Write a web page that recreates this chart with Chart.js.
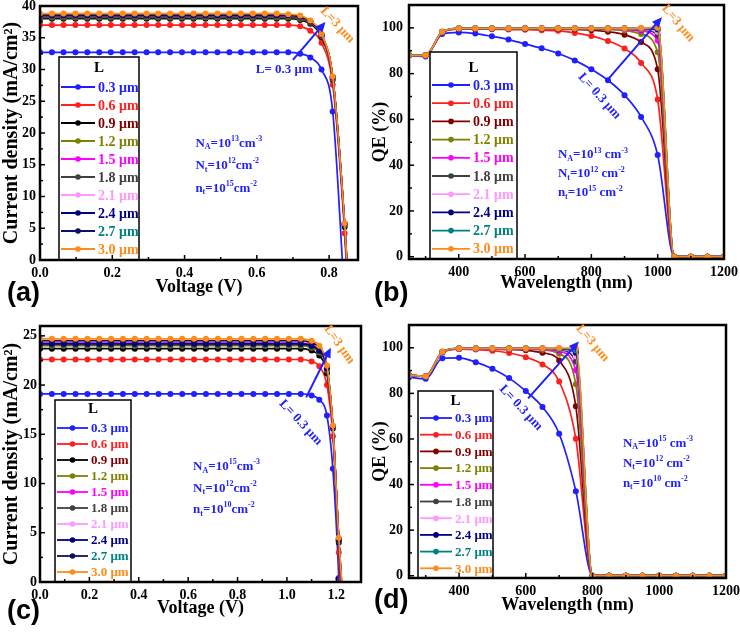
<!DOCTYPE html>
<html>
<head>
<meta charset="utf-8">
<script src="https://cdn.jsdelivr.net/npm/chart.js@4"></script>
<style>
body { margin: 0; background: #fff; }
#wrap { position: relative; width: 740px; height: 637px; }
canvas { position: absolute; }
</style>
</head>
<body>
<div id="wrap">
<canvas id="ca" width="370" height="318" style="left:0;top:0"></canvas>
<canvas id="cb" width="370" height="318" style="left:370px;top:0"></canvas>
<canvas id="cc" width="370" height="319" style="left:0;top:318px"></canvas>
<canvas id="cd" width="370" height="319" style="left:370px;top:318px"></canvas>
</div>
<script>
var lengths = ['0.3 μm', '0.6 μm', '0.9 μm', '1.2 μm', '1.5 μm', '1.8 μm', '2.1 μm', '2.4 μm', '2.7 μm', '3.0 μm'];
var textColors = ['#1f1fff', '#ff1f1f', '#800000', '#808000', '#ff00ff', '#404040', '#ff99ff', '#000080', '#008080', '#ff8c1a'];
var lineColorsJV = ['#1f1fff', '#ff1f1f', '#000000', '#808000', '#ff00ff', '#404040', '#ff99ff', '#000080', '#101060', '#ff8c1a'];
var lineColorsQE = ['#1f1fff', '#ff1f1f', '#800000', '#808000', '#ff00ff', '#404040', '#ff99ff', '#000080', '#008080', '#ff8c1a'];

// (a) J-V, NA = 1e13
var voltA = [0, 0.033, 0.065, 0.098, 0.131, 0.164, 0.196, 0.229, 0.262, 0.295,
    0.327, 0.36, 0.393, 0.425, 0.458, 0.491, 0.524, 0.556, 0.589, 0.622,
    0.655, 0.687, 0.72, 0.748, 0.779, 0.81, 0.843, 0.85];
var jA = [
    [32.7,32.7,32.7,32.7,32.7,32.7,32.7,32.7,32.7,32.7, 32.7,32.7,32.7,32.7,32.7,32.7,32.7,32.7,32.7,32.7, 32.7,32.7, 32.5,31.9,30.0,23.4,-6,-12],
    [37.0,37.0,37.0,37.0,37.0,37.0,37.0,37.0,37.0,37.0, 37.0,37.0,37.0,37.0,37.0,37.0,37.0,37.0,37.0,37.0, 37.0,37.0, 36.8,36.1,34.2,27.6,4.2,-3],
    [38.0,38.0,38.0,38.0,38.0,38.0,38.0,38.0,38.0,38.0, 38.0,38.0,38.0,38.0,38.0,38.0,38.0,38.0,38.0,38.0, 38.0,38.0, 37.8,37.2,35.1,28.4,5.2,-2],
    [38.2,38.2,38.2,38.2,38.2,38.2,38.2,38.2,38.2,38.2, 38.2,38.2,38.2,38.2,38.2,38.2,38.2,38.2,38.2,38.2, 38.2,38.2, 38.0,37.4,35.3,28.6,5.5,-1.5],
    [38.4,38.4,38.4,38.4,38.4,38.4,38.4,38.4,38.4,38.4, 38.4,38.4,38.4,38.4,38.4,38.4,38.4,38.4,38.4,38.4, 38.4,38.4, 38.2,37.5,35.4,28.7,5.6,-1.3],
    [38.3,38.3,38.3,38.3,38.3,38.3,38.3,38.3,38.3,38.3, 38.3,38.3,38.3,38.3,38.3,38.3,38.3,38.3,38.3,38.3, 38.3,38.3, 38.1,37.4,35.4,28.7,5.6,-1.3],
    [38.5,38.5,38.5,38.5,38.5,38.5,38.5,38.5,38.5,38.5, 38.5,38.5,38.5,38.5,38.5,38.5,38.5,38.5,38.5,38.5, 38.5,38.5, 38.3,37.6,35.5,28.8,5.7,-1.2],
    [38.5,38.5,38.5,38.5,38.5,38.5,38.5,38.5,38.5,38.5, 38.5,38.5,38.5,38.5,38.5,38.5,38.5,38.5,38.5,38.5, 38.5,38.5, 38.3,37.6,35.5,28.8,5.7,-1.1],
    [38.6,38.6,38.6,38.6,38.6,38.6,38.6,38.6,38.6,38.6, 38.6,38.6,38.6,38.6,38.6,38.6,38.6,38.6,38.6,38.6, 38.6,38.6, 38.4,37.6,35.5,28.8,5.7,-1.1],
    [38.8,38.8,38.8,38.8,38.8,38.8,38.8,38.8,38.8,38.8, 38.8,38.8,38.8,38.8,38.8,38.8,38.8,38.8,38.8,38.8, 38.8,38.7, 38.5,37.7,35.6,28.9,5.8,-1]
];

// (c) J-V, NA = 1e15
var voltC = [0, 0.048, 0.096, 0.144, 0.192, 0.24, 0.288, 0.336, 0.384, 0.432,
    0.48, 0.528, 0.576, 0.624, 0.672, 0.72, 0.768, 0.816, 0.864, 0.912,
    0.96, 1.008, 1.056, 1.1, 1.131, 1.162, 1.186, 1.21, 1.23];
var jC = [
    [19.1,19.1,19.1,19.1,19.1,19.1,19.1,19.1,19.1,19.1, 19.1,19.1,19.1,19.1,19.1,19.1,19.1,19.1,19.1,19.1, 19.1,19.1,19.1, 18.95,18.5,16.9,11.5,0.4,-15],
    [22.6,22.6,22.6,22.6,22.6,22.6,22.6,22.6,22.6,22.6, 22.6,22.6,22.6,22.6,22.6,22.6,22.6,22.6,22.6,22.6, 22.6,22.6,22.6, 22.4,21.9,20.0,14.8,3.0,-10],
    [23.7,23.7,23.7,23.7,23.7,23.7,23.7,23.7,23.7,23.7, 23.7,23.7,23.7,23.7,23.7,23.7,23.7,23.7,23.7,23.7, 23.7,23.7,23.7, 23.5,23.0,21.2,15.6,4.0,-5],
    [24.0,24.0,24.0,24.0,24.0,24.0,24.0,24.0,24.0,24.0, 24.0,24.0,24.0,24.0,24.0,24.0,24.0,24.0,24.0,24.0, 24.0,24.0,24.0, 23.8,23.3,21.5,15.7,4.2,-4.5],
    [24.3,24.3,24.3,24.3,24.3,24.3,24.3,24.3,24.3,24.3, 24.3,24.3,24.3,24.3,24.3,24.3,24.3,24.3,24.3,24.3, 24.3,24.3,24.3, 24.1,23.6,21.7,15.8,4.3,-4],
    [24.1,24.1,24.1,24.1,24.1,24.1,24.1,24.1,24.1,24.1, 24.1,24.1,24.1,24.1,24.1,24.1,24.1,24.1,24.1,24.1, 24.1,24.1,24.1, 23.9,23.4,21.6,15.7,4.2,-4],
    [24.4,24.4,24.4,24.4,24.4,24.4,24.4,24.4,24.4,24.4, 24.4,24.4,24.4,24.4,24.4,24.4,24.4,24.4,24.4,24.4, 24.4,24.4,24.4, 24.2,23.7,21.8,15.8,4.4,-3.5],
    [24.2,24.2,24.2,24.2,24.2,24.2,24.2,24.2,24.2,24.2, 24.2,24.2,24.2,24.2,24.2,24.2,24.2,24.2,24.2,24.2, 24.2,24.2,24.2, 24.0,23.5,21.7,15.8,4.3,-3.5],
    [24.5,24.5,24.5,24.5,24.5,24.5,24.5,24.5,24.5,24.5, 24.5,24.5,24.5,24.5,24.5,24.5,24.5,24.5,24.5,24.5, 24.5,24.5,24.5, 24.3,23.8,21.9,15.8,4.4,-3.2],
    [24.7,24.7,24.7,24.7,24.7,24.7,24.7,24.7,24.7,24.7, 24.7,24.7,24.7,24.7,24.7,24.7,24.7,24.7,24.7,24.7, 24.7,24.7,24.7, 24.5,24.0,22.0,15.9,4.5,-3]
];

// (b) and (d) QE
var wave = [250, 300, 350, 400, 450, 500, 550, 600, 650, 700, 750, 800, 850, 900, 950, 1000, 1050, 1100, 1150, 1200];
var qeB = [
    [88.0,87.5,97.3,98.0,97.5,96.3,94.9,93.0,91.1,88.8,85.8,81.9,77.1,70.6,61.1,44.4,0,0,0,0],
    [88.0,88.0,98.0,99.5,99.5,99.4,99.3,99.2,99.0,98.7,97.8,96.5,94.3,91.0,84.7,68.7,0,0,0,0],
    [88.0,88.0,98.1,99.6,99.6,99.6,99.6,99.5,99.5,99.4,99.3,99.0,98.3,97.0,93.8,81.9,0,0,0,0],
    [88.0,88.0,98.2,99.7,99.7,99.7,99.7,99.7,99.7,99.6,99.6,99.5,99.3,98.9,97.3,89.3,0,0,0,0],
    [88.0,88.0,98.2,99.7,99.7,99.7,99.7,99.7,99.7,99.7,99.7,99.6,99.5,99.3,98.6,94.5,0,0,0,0],
    [88.0,88.0,98.2,99.7,99.7,99.7,99.7,99.7,99.7,99.7,99.7,99.7,99.6,99.5,99.2,96.8,0,0,0,0],
    [88.0,88.0,98.3,99.8,99.8,99.8,99.8,99.8,99.8,99.8,99.8,99.8,99.7,99.6,99.5,98.3,0,0,0,0],
    [88.0,88.0,98.3,99.8,99.8,99.8,99.8,99.8,99.8,99.8,99.8,99.8,99.8,99.8,99.7,99.3,0,0,0,0],
    [88.0,88.0,98.3,99.8,99.8,99.8,99.8,99.8,99.8,99.8,99.8,99.8,99.8,99.8,99.8,99.8,0,0,0,0],
    [88.0,88.0,98.3,99.8,99.8,99.8,99.8,99.8,99.8,99.8,99.8,99.8,99.8,99.8,99.9,100.2,0,0,0,0]
];
var qeD = [
    [87.1,86.4,95.4,95.6,93.7,90.8,86.7,81.0,74.0,62.3,37.1,0,0,0,0,0,0,0,0,0],
    [88.0,87.5,98.0,99.4,99.2,98.7,97.7,95.9,92.7,85.2,60.1,0,0,0,0,0,0,0,0,0],
    [88.0,87.5,98.1,99.5,99.5,99.4,99.2,98.9,97.8,94.4,74.3,0,0,0,0,0,0,0,0,0],
    [88.0,87.5,98.2,99.6,99.6,99.6,99.5,99.4,99.1,97.4,84.0,0,0,0,0,0,0,0,0,0],
    [88.0,87.5,98.2,99.6,99.6,99.6,99.6,99.5,99.4,98.4,90.1,0,0,0,0,0,0,0,0,0],
    [88.0,87.5,98.2,99.7,99.7,99.7,99.7,99.6,99.6,99.0,94.0,0,0,0,0,0,0,0,0,0],
    [88.0,87.5,98.3,99.7,99.7,99.7,99.7,99.7,99.7,99.4,96.3,0,0,0,0,0,0,0,0,0],
    [88.0,87.5,98.3,99.8,99.8,99.8,99.8,99.8,99.8,99.6,97.8,0,0,0,0,0,0,0,0,0],
    [88.0,87.5,98.3,99.8,99.8,99.8,99.8,99.8,99.8,99.7,98.8,0,0,0,0,0,0,0,0,0],
    [88.0,87.5,98.3,99.8,99.8,99.8,99.8,99.8,99.8,99.9,99.9,0,0,0,0,0,0,0,0,0]
];

var ticksVoltA = [0, 0.2, 0.4, 0.6, 0.8];
var ticksJA = [0, 5, 10, 15, 20, 25, 30, 35, 40];
var ticksVoltC = [0, 0.2, 0.4, 0.6, 0.8, 1.0, 1.2];
var ticksJC = [0, 5, 10, 15, 20, 25];
var ticksWave = [400, 600, 800, 1000, 1200];
var ticksQE = [0, 20, 40, 60, 80, 100];

var SERIF = '"Liberation Serif", "Times New Roman", serif';

function richLine(ctx, str, x, y, size) {
    var re = /([_^])\{([^}]*)\}|([^_^]+)/g, m;
    while ((m = re.exec(str)) !== null) {
        var txt = m[3] || m[2];
        var small = !m[3];
        ctx.font = 'bold ' + (small ? Math.round(size * 0.65) : size) + 'px ' + SERIF;
        var dy = m[1] === '_' ? size * 0.3 : (m[1] === '^' ? -size * 0.35 : 0);
        ctx.fillText(txt, x, y + dy);
        x += ctx.measureText(txt).width;
    }
}

function tickMarks(ctx, scale, area, horiz) {
    var vals = scale.ticks.map(function (t) { return t.value; });
    var step = vals[1] - vals[0];
    var minors = [];
    for (var i = -1; i < vals.length; i++) {
        var v = (i < 0 ? vals[0] - step : vals[i]) + step / 2;
        if (v > scale.min && v < scale.max) minors.push(v);
    }
    function mark(v, len) {
        var p = scale.getPixelForValue(v);
        ctx.beginPath();
        if (horiz) { ctx.moveTo(p, area.bottom); ctx.lineTo(p, area.bottom - len); }
        else { ctx.moveTo(area.left, p); ctx.lineTo(area.left + len, p); }
        ctx.stroke();
    }
    vals.forEach(function (v) { mark(v, 5); });
    minors.forEach(function (v) { mark(v, 3); });
}

var decor = {
    id: 'decor',
    afterDraw: function (chart, args, o) {
        var ctx = chart.ctx, a = chart.chartArea, xs = chart.scales.x, ys = chart.scales.y;
        ctx.save();

        // legend box
        var lb = o.legend;
        ctx.fillStyle = '#fff';
        ctx.fillRect(lb.x, lb.y, lb.w, a.bottom - lb.y);
        ctx.strokeStyle = '#000';
        ctx.lineWidth = 1.5;
        ctx.strokeRect(lb.x, lb.y, lb.w, a.bottom - lb.y);
        ctx.fillStyle = '#000';
        ctx.font = 'bold 15px ' + SERIF;
        ctx.textAlign = 'center';
        ctx.textBaseline = 'middle';
        ctx.fillText('L', lb.x + lb.w / 2, lb.titleY);
        ctx.textAlign = 'left';
        ctx.font = 'bold ' + lb.size + 'px ' + SERIF;
        chart.data.datasets.forEach(function (ds, i) {
            var y = lb.first + i * lb.step;
            ctx.strokeStyle = ds.borderColor;
            ctx.lineWidth = 1.8;
            ctx.beginPath();
            ctx.moveTo(lb.x + 2, y);
            ctx.lineTo(lb.x + lb.line, y);
            ctx.stroke();
            ctx.fillStyle = ds.borderColor;
            ctx.beginPath();
            ctx.arc(lb.x + 2 + (lb.line - 2) / 2, y, 2.8, 0, Math.PI * 2);
            ctx.fill();
            ctx.fillStyle = textColors[i];
            ctx.fillText(ds.label, lb.x + lb.line + 3, y + 1);
        });

        // ticks and frame
        ctx.strokeStyle = '#000';
        ctx.lineWidth = 1.5;
        tickMarks(ctx, xs, a, true);
        tickMarks(ctx, ys, a, false);
        ctx.lineWidth = 2.5;
        ctx.strokeRect(a.left, a.top, a.right - a.left, a.bottom - a.top);

        // parameter notes
        ctx.fillStyle = '#1f1fff';
        ctx.textBaseline = 'middle';
        var nx = xs.getPixelForValue(o.notes.x), ny = ys.getPixelForValue(o.notes.y);
        o.notes.lines.forEach(function (s, i) {
            richLine(ctx, s, nx, ny + i * o.notes.gap, o.notes.size);
        });

        // arrow
        var ar = o.arrow;
        var x0 = xs.getPixelForValue(ar[0]), y0 = ys.getPixelForValue(ar[1]);
        var x1 = xs.getPixelForValue(ar[2]), y1 = ys.getPixelForValue(ar[3]);
        var ang = Math.atan2(y1 - y0, x1 - x0);
        ctx.strokeStyle = '#1f1fff';
        ctx.lineWidth = 2;
        ctx.beginPath();
        ctx.moveTo(x0, y0);
        ctx.lineTo(x1 - 7 * Math.cos(ang), y1 - 7 * Math.sin(ang));
        ctx.stroke();
        ctx.beginPath();
        ctx.moveTo(x1, y1);
        ctx.lineTo(x1 - 10 * Math.cos(ang) + 4.5 * Math.sin(ang), y1 - 10 * Math.sin(ang) - 4.5 * Math.cos(ang));
        ctx.lineTo(x1 - 10 * Math.cos(ang) - 4.5 * Math.sin(ang), y1 - 10 * Math.sin(ang) + 4.5 * Math.cos(ang));
        ctx.closePath();
        ctx.fillStyle = '#1f1fff';
        ctx.fill();

        // L labels
        ctx.textAlign = 'center';
        o.tags.forEach(function (t) {
            ctx.save();
            ctx.translate(xs.getPixelForValue(t.x), ys.getPixelForValue(t.y));
            ctx.rotate(t.rot * Math.PI / 180);
            ctx.fillStyle = t.color;
            ctx.font = 'bold 13px ' + SERIF;
            ctx.fillText(t.text, 0, 0);
            ctx.restore();
        });

        // panel letter
        ctx.textAlign = 'left';
        ctx.textBaseline = 'alphabetic';
        ctx.fillStyle = '#000';
        ctx.font = 'bold 27px "Liberation Sans", Arial, sans-serif';
        ctx.fillText(o.panel.text, o.panel.x, o.panel.y);
        ctx.restore();
    }
};

function build(id, p) {
    var sets = p.rows.map(function (row, i) {
        return {
            label: lengths[i],
            data: row.map(function (v, k) { return { x: p.xs[k], y: v }; }),
            borderColor: p.colors[i],
            backgroundColor: p.colors[i],
            borderWidth: 1.7,
            pointRadius: 3,
            pointHoverRadius: 3,
            pointBorderWidth: 0,
            cubicInterpolationMode: 'monotone',
            order: p.rows.length - i
        };
    });
    var tickFont = { family: SERIF, size: 14, weight: 'bold' };
    var titleFont = { family: SERIF, size: 18, weight: 'bold' };
    var yTitleFont = { family: SERIF, size: p.ytSize, weight: 'bold' };
    return new Chart(document.getElementById(id), {
        type: 'line',
        data: { datasets: sets },
        options: {
            responsive: false,
            animation: false,
            devicePixelRatio: 1,
            layout: { padding: { left: 0, top: p.top, right: p.right, bottom: 0 } },
            scales: {
                x: {
                    type: 'linear', min: p.xMin, max: p.xMax,
                    afterBuildTicks: function (s) { s.ticks = p.xTicks.map(function (v) { return { value: v }; }); },
                    afterFit: function (s) { s.height = p.xh; s.paddingLeft = 0; s.paddingRight = 0; },
                    grid: { display: false, drawTicks: false },
                    border: { display: false },
                    ticks: { autoSkip: false, maxRotation: 0, padding: 5, color: '#000', font: tickFont, callback: p.xFmt },
                    title: { display: true, text: p.xTitle, color: '#000', font: titleFont, padding: { top: 0, bottom: p.xtPad } }
                },
                y: {
                    type: 'linear', min: p.yMin, max: p.yMax,
                    afterBuildTicks: function (s) { s.ticks = p.yTicks.map(function (v) { return { value: v }; }); },
                    afterFit: function (s) { s.width = p.yw; s.paddingTop = 0; s.paddingBottom = 0; },
                    grid: { display: false, drawTicks: false },
                    border: { display: false },
                    ticks: { autoSkip: false, padding: p.yPad, color: '#000', font: tickFont },
                    title: { display: true, text: p.yTitle, color: '#000', font: yTitleFont, padding: { top: p.ytPad, bottom: 0 } }
                }
            },
            plugins: { legend: { display: false }, tooltip: { enabled: false }, decor: p.decor }
        },
        plugins: [decor]
    });
}

function fmt1(v) { return v.toFixed(1); }
function fmt0(v) { return String(v); }

window.onload = function () {
    build('ca', {
        xs: voltA, rows: jA, colors: lineColorsJV,
        xMin: 0, xMax: 0.88, yMin: 0, yMax: 40, xTicks: ticksVoltA, yTicks: ticksJA, xFmt: fmt1,
        xTitle: 'Voltage (V)', yTitle: 'Current density (mA/cm²)',
        top: 6, right: 12, yw: 40, xh: 58, yPad: 4, xtPad: 20, ytPad: 0, ytSize: 20,
        decor: {
            legend: { x: 59, y: 57, w: 80, titleY: 68, first: 87, step: 18, line: 36, size: 14 },
            notes: { x: 0.43, y: 18.4, gap: 22.5, size: 13, lines: ['N_{A}=10^{13}cm^{-3}', 'N_{t}=10^{12}cm^{-2}', 'n_{t}=10^{15}cm^{-2}'] },
            arrow: [0.70, 31.5, 0.79, 37.5],
            tags: [
                { text: 'L= 0.3 μm', x: 0.676, y: 29.9, rot: 0, color: '#1f1fff' },
                { text: 'L=3 μm', x: 0.823, y: 37.0, rot: 47, color: '#ff8c1a' }
            ],
            panel: { text: '(a)', x: 7, y: 301 }
        }
    });
    build('cb', {
        xs: wave, rows: qeB, colors: lineColorsQE,
        xMin: 250, xMax: 1200, yMin: -1, yMax: 110, xTicks: ticksWave, yTicks: ticksQE, xFmt: fmt0,
        xTitle: 'Wavelength (nm)', yTitle: 'QE (%)',
        top: 5, right: 16, yw: 39, xh: 59, yPad: 6, xtPad: 24, ytPad: 0, ytSize: 18,
        decor: {
            legend: { x: 60, y: 52, w: 87, titleY: 68, first: 85, step: 18.2, line: 40, size: 14 },
            notes: { x: 699, y: 44.4, gap: 19, size: 13, lines: ['N_{A}=10^{13} cm^{-3}', 'N_{t}=10^{12} cm^{-2}', 'n_{t}=10^{15} cm^{-2}'] },
            arrow: [848, 77.2, 1013, 104.7],
            tags: [
                { text: 'L= 0.3 μm', x: 824, y: 70.2, rot: 48, color: '#1f1fff' },
                { text: 'L=3 μm', x: 1062, y: 102, rot: 50, color: '#ff8c1a' }
            ],
            panel: { text: '(b)', x: 4, y: 301 }
        }
    });
    build('cc', {
        xs: voltC, rows: jC, colors: lineColorsJV,
        xMin: 0, xMax: 1.3, yMin: 0, yMax: 26, xTicks: ticksVoltC, yTicks: ticksJC, xFmt: fmt1,
        xTitle: 'Voltage (V)', yTitle: 'Current density (mA/cm²)',
        top: 8, right: 9, yw: 40, xh: 55, yPad: 3, xtPad: 18, ytPad: 0, ytSize: 20,
        decor: {
            legend: { x: 55, y: 82, w: 76, titleY: 91, first: 110, step: 16, line: 33, size: 13 },
            notes: { x: 0.62, y: 11.7, gap: 21.5, size: 13, lines: ['N_{A}=10^{15}cm^{-3}', 'N_{t}=10^{12}cm^{-2}', 'n_{t}=10^{10}cm^{-2}'] },
            arrow: [1.078, 18.75, 1.178, 23.8],
            tags: [
                { text: 'L= 0.3 μm', x: 1.056, y: 16.2, rot: 47, color: '#1f1fff' },
                { text: 'L=3 μm', x: 1.212, y: 24.1, rot: 55, color: '#ff8c1a' }
            ],
            panel: { text: '(c)', x: 7, y: 301 }
        }
    });
    build('cd', {
        xs: wave, rows: qeD, colors: lineColorsQE,
        xMin: 250, xMax: 1200, yMin: -1, yMax: 110, xTicks: ticksWave, yTicks: ticksQE, xFmt: fmt0,
        xTitle: 'Wavelength (nm)', yTitle: 'QE (%)',
        top: 7, right: 14, yw: 39, xh: 59, yPad: 6, xtPad: 21, ytPad: 0, ytSize: 18,
        decor: {
            legend: { x: 48, y: 73, w: 75, titleY: 83, first: 100, step: 16.7, line: 34, size: 13 },
            notes: { x: 891, y: 58, gap: 20, size: 13, lines: ['N_{A}=10^{15} cm^{-3}', 'N_{t}=10^{12} cm^{-2}', 'n_{t}=10^{10} cm^{-2}'] },
            arrow: [607, 77.8, 759, 102.8],
            tags: [
                { text: 'L= 0.3 μm', x: 585, y: 73.7, rot: 47, color: '#1f1fff' },
                { text: 'L=3 μm', x: 800, y: 102, rot: 50, color: '#ff8c1a' }
            ],
            panel: { text: '(d)', x: 4, y: 290 }
        }
    });
};
</script>
</body>
</html>
